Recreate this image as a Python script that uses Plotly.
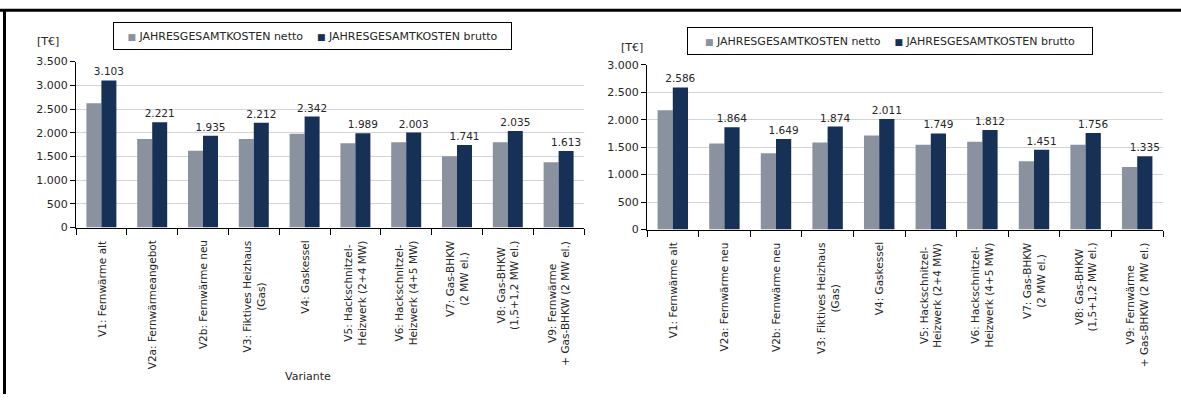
import plotly.graph_objects as go

W, H = 1181, 401

# Kategorien (Varianten) für beide Diagramme
keys = ["V1", "V2a", "V2b", "V3", "V4", "V5", "V6", "V7", "V8", "V9"]
labels_left = [
    "V1: Fernwärme alt",
    "V2a: Fernwärmeangebot",
    "V2b: Fernwärme neu",
    "V3: Fiktives Heizhaus<br>(Gas)",
    "V4: Gaskessel",
    "V5: Hackschnitzel-<br>Heizwerk (2+4 MW)",
    "V6: Hackschnitzel-<br>Heizwerk (4+5 MW)",
    "V7: Gas-BHKW<br>(2 MW el.)",
    "V8: Gas-BHKW<br>(1,5+1,2 MW el.)",
    "V9: Fernwärme<br>+ Gas-BHKW (2 MW el.)",
]
labels_right = [
    "V1: Fernwärme alt",
    "V2a: Fernwärme neu",
    "V2b: Fernwärme neu",
    "V3: Fiktives Heizhaus<br>(Gas)",
    "V4: Gaskessel",
    "V5: Hackschnitzel-<br>Heizwerk (2+4 MW)",
    "V6: Hackschnitzel-<br>Heizwerk (4+5 MW)",
    "V7: Gas-BHKW<br>(2 MW el.)",
    "V8: Gas-BHKW<br>(1,5+1,2 MW el.)",
    "V9: Fernwärme<br>+ Gas-BHKW (2 MW el.)",
]

# Jahresgesamtkosten [T€]
netto_left = [2620, 1870, 1620, 1870, 1980, 1780, 1800, 1505, 1800, 1380]
brutto_left = [3103, 2221, 1935, 2212, 2342, 1989, 2003, 1741, 2035, 1613]
netto_right = [2170, 1565, 1390, 1585, 1710, 1545, 1600, 1245, 1545, 1140]
brutto_right = [2586, 1864, 1649, 1874, 2011, 1749, 1812, 1451, 1756, 1335]

y_ticks_left = [0, 500, 1000, 1500, 2000, 2500, 3000, 3500]
y_ticks_right = [0, 500, 1000, 1500, 2000, 2500, 3000]

C_NETTO = "#8A92A0"
C_BRUTTO = "#173056"
FONT = "DejaVu Sans"
TXT = "#262626"

fig = go.Figure()

for xa, ya, netto, brutto in (("x", "y", netto_left, brutto_left),
                              ("x2", "y2", netto_right, brutto_right)):
    fig.add_trace(go.Bar(x=keys, y=netto, xaxis=xa, yaxis=ya,
                         marker=dict(color=C_NETTO, line=dict(width=0)),
                         showlegend=False, name="JAHRESGESAMTKOSTEN netto"))
    fig.add_trace(go.Bar(x=keys, y=brutto, xaxis=xa, yaxis=ya,
                         marker=dict(color=C_BRUTTO, line=dict(width=0)),
                         texttemplate="%{y:,d}", textposition="outside",
                         constraintext="none",
                         textfont=dict(family=FONT, size=10.5, color=TXT),
                         cliponaxis=False,
                         showlegend=False, name="JAHRESGESAMTKOSTEN brutto"))


def px(v):
    return v / W


def py(v):
    return 1 - v / H


xaxis_common = dict(
    type="category", showgrid=False, showline=True, linecolor="#000", linewidth=1,
    ticks="outside", ticklen=6, tickcolor="#000", tickson="boundaries",
    showticklabels=False, zeroline=False,
)
yaxis_common = dict(
    showgrid=True, gridcolor="#D4D4D4", gridwidth=1, showline=True, linecolor="#000",
    linewidth=1, ticks="outside", ticklen=5, tickcolor="#000", zeroline=False,
    tickformat=",d", tickfont=dict(family=FONT, size=11, color=TXT),
)

fig.update_layout(
    width=W, height=H, margin=dict(l=0, r=0, t=0, b=0),
    paper_bgcolor="white", plot_bgcolor="white",
    separators=",.", barmode="group", bargap=0.41, bargroupgap=0,
    font=dict(family=FONT, size=11, color=TXT),
    xaxis=dict(domain=[px(76), px(584)], anchor="y", **xaxis_common),
    yaxis=dict(domain=[py(229), py(57.5)], anchor="x", range=[0, 3500],
               tickvals=y_ticks_left, **yaxis_common),
    xaxis2=dict(domain=[px(647), px(1163)], anchor="y2", **xaxis_common),
    yaxis2=dict(domain=[py(231), py(60.7)], anchor="x2", range=[0, 3000],
                tickvals=y_ticks_right, **yaxis_common),
)

annotations = []
# Rotierte Kategoriebeschriftungen, mehrzeilig zentriert
for xref, yref, labs in (("x", "y", labels_left), ("x2", "y2", labels_right)):
    for k, lab in zip(keys, labs):
        annotations.append(dict(
            x=k, y=0, xref=xref, yref=yref, text=lab, showarrow=False,
            textangle=-90, xanchor="center", yanchor="top", yshift=-11,
            align="center", font=dict(family=FONT, size=10.5, color=TXT),
        ))

# Einheiten
annotations.append(dict(x=px(48), y=py(37), xref="paper", yref="paper", text="[T€]",
                        showarrow=False, xanchor="center", yanchor="middle",
                        font=dict(family=FONT, size=11, color=TXT)))
annotations.append(dict(x=px(632), y=py(43), xref="paper", yref="paper", text="[T€]",
                        showarrow=False, xanchor="center", yanchor="middle",
                        font=dict(family=FONT, size=11, color=TXT)))
# Achsentitel
annotations.append(dict(x=px(308), y=py(383), xref="paper", yref="paper", text="Variante",
                        showarrow=False, xanchor="center", yanchor="middle",
                        font=dict(family=FONT, size=11, color=TXT)))

# Legenden
sq = '<span style="color:{c};font-size:9px">■</span>'
legend_text = (sq.format(c=C_NETTO) + " JAHRESGESAMTKOSTEN netto" + "\u00a0" * 4 +
               sq.format(c=C_BRUTTO) + " JAHRESGESAMTKOSTEN brutto")
for cx, cy, w in ((312.5, 31, 385), (890, 36, 392)):
    annotations.append(dict(x=px(cx), y=py(cy), xref="paper", yref="paper",
                            text=legend_text, showarrow=False, xanchor="center",
                            yanchor="middle", width=w, height=14, borderpad=6,
                            bordercolor="#000", borderwidth=1, bgcolor="white",
                            align="center", font=dict(family=FONT, size=11, color=TXT)))

fig.update_layout(annotations=annotations)

# Rahmen oben und links
fig.update_layout(shapes=[
    dict(type="line", xref="paper", yref="paper", x0=0, x1=1, y0=py(4.5), y1=py(4.5),
         line=dict(color="#000", width=3)),
    dict(type="line", xref="paper", yref="paper", x0=px(4.5), x1=px(4.5), y0=0, y1=py(3),
         line=dict(color="#000", width=3)),
])

fig.write_html("out.html")
